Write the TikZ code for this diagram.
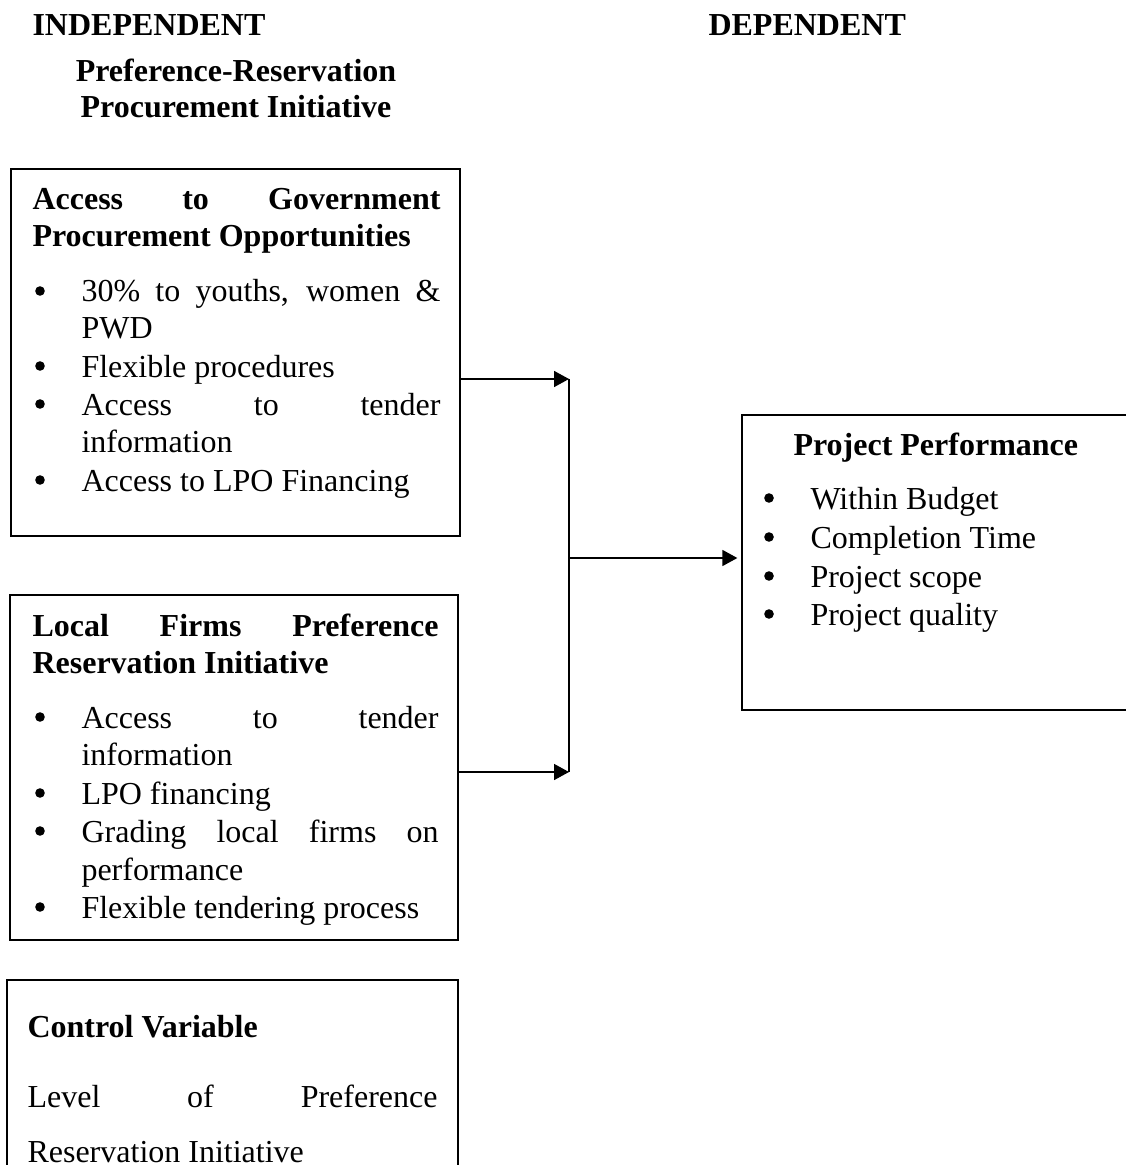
\documentclass[tikz,border=0pt]{standalone}
\usepackage{fontspec}
\setmainfont{Liberation Serif}
\usepackage{tikz}
\usetikzlibrary{arrows.meta, positioning, calc, fit}
\newcommand{\bodyfont}{\fontsize{12}{14.4}\selectfont}
\newcommand{\jline}[2]{\makebox[#1][s]{#2}}

\begin{document}
\begin{tikzpicture}[x=0.375pt, y=-0.375pt,
    font=\bodyfont,
    box/.style={draw, line width=0.5pt, inner sep=0pt},
    hd/.style={anchor=base west, inner sep=0pt, font=\bodyfont\bfseries},
    txt/.style={anchor=base west, inner sep=0pt},
    dot/.style={circle, fill, inner sep=0pt, minimum size=3.6pt},
    arr/.style={line width=0.5pt, -{Triangle[length=5.6pt, width=6pt]}}]
    \useasboundingbox (0,0) rectangle (1125,1165);

    % Headings
    \node[hd] (indep) at (32,36) {INDEPENDENT};
    \node[hd] (dep) at (708,36) {DEPENDENT};
    \node[hd, anchor=base] (ttl1) at (236,82) {Preference-Reservation};
    \node[hd, anchor=base] (ttl2) at (236,118) {Procurement Initiative};

    % Access box
    \node[box, fit={(11,169) (460,536)}] (access) {};
    \node[hd] (acc1) at (32,210) {\jline{153pt}{Access to Government}};
    \node[hd] (acc2) at (32,247) {Procurement Opportunities};
    \node[dot] (accb1) at (40,291) {};
    \node[txt] (acc3) at (81,302) {\jline{134.6pt}{30\% to youths, women \&}};
    \node[txt] (acc4) at (81,339) {PWD};
    \node[dot] (accb2) at (40,366) {};
    \node[txt] (acc5) at (81,377) {Flexible procedures};
    \node[dot] (accb3) at (40,404) {};
    \node[txt] (acc6) at (81,415) {\jline{134.6pt}{Access to tender}};
    \node[txt] (acc7) at (81,452) {information};
    \node[dot] (accb4) at (40,480) {};
    \node[txt] (acc8) at (81,491) {Access to LPO Financing};

    % Local firms box
    \node[box, fit={(10,595) (458,940)}] (local) {};
    \node[hd] (loc1) at (32,636) {\jline{152.25pt}{Local Firms Preference}};
    \node[hd] (loc2) at (32,673) {Reservation Initiative};
    \node[dot] (locb1) at (40,717) {};
    \node[txt] (loc3) at (81,728) {\jline{133.9pt}{Access to tender}};
    \node[txt] (loc4) at (81,765) {information};
    \node[dot] (locb2) at (40,793) {};
    \node[txt] (loc5) at (81,804) {LPO financing};
    \node[dot] (locb3) at (40,831) {};
    \node[txt] (loc6) at (81,842) {\jline{133.9pt}{Grading local firms on}};
    \node[txt] (loc7) at (81,880) {performance};
    \node[dot] (locb4) at (40,907) {};
    \node[txt] (loc8) at (81,918) {Flexible tendering process};

    % Control box (runs off the page)
    \node[box, fit={(7,980) (458,1190)}] (ctrl) {};
    \node[hd] (ctl1) at (27,1037) {Control Variable};
    \node[txt] (ctl2) at (27,1107) {\jline{153.75pt}{Level of Preference}};
    \node[txt] (ctl3) at (27,1162) {Reservation Initiative};

    % Performance box (runs off the page)
    \node[box, fit={(742,415) (1140,710)}] (perf) {};
    \node[hd] (prf1) at (793,455) {Project Performance};
    \node[dot] (prfb1) at (769,498) {};
    \node[txt] (prf2) at (810,509) {Within Budget};
    \node[dot] (prfb2) at (769,537) {};
    \node[txt] (prf3) at (810,548) {Completion Time};
    \node[dot] (prfb3) at (769,576) {};
    \node[txt] (prf4) at (810,587) {Project scope};
    \node[dot] (prfb4) at (769,614) {};
    \node[txt] (prf5) at (810,625) {Project quality};

    % Connectors
    \coordinate (jtop) at (569,379);
    \coordinate (jmid) at (569,558);
    \coordinate (jbot) at (569,772);
    \draw[arr] (access.east |- jtop) -- (jtop);
    \draw[arr] (local.east |- jbot) -- (jbot);
    \draw[line width=0.5pt] (jtop) -- (jbot);
    \draw[arr, shorten >=1.5pt] (jmid) -- (perf.west |- jmid);
\end{tikzpicture}
\end{document}
